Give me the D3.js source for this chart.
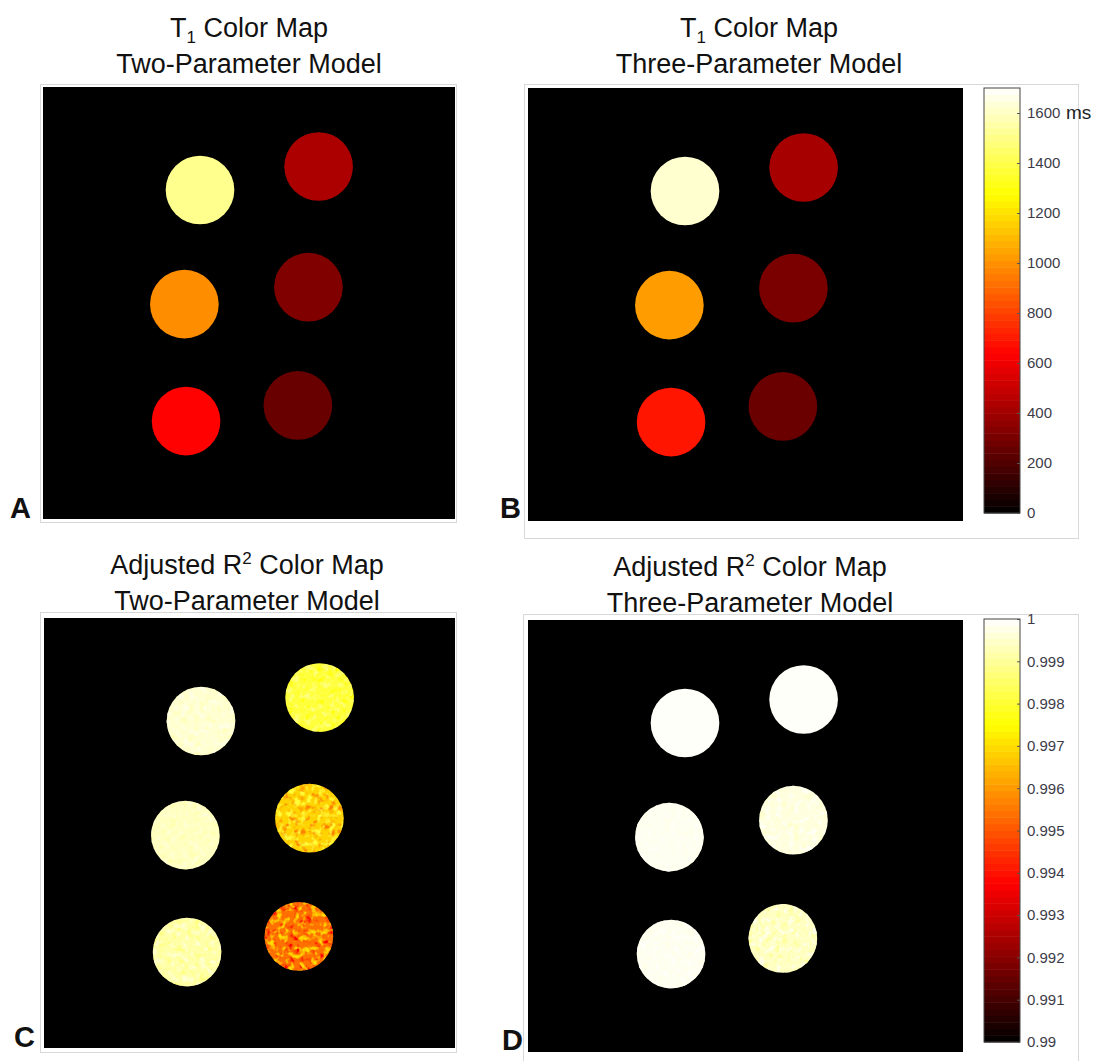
<!DOCTYPE html>
<html>
<head>
  <meta charset="utf-8">
  <script src="https://d3js.org/d3.v7.min.js"></script>
  <style>
    body { margin: 0; background: white; font-family: "Liberation Sans", Arial, sans-serif; }
    .frame { fill: none; stroke: #d8d8d8; stroke-width: 1; }
    .title { font-size: 27px; fill: #111; text-anchor: middle; }
    .plabel { font-size: 29px; font-weight: bold; fill: #111; }
    .cbar text { font-size: 15px; fill: #3c3c48; font-family: "Liberation Sans", Arial, sans-serif; }
    .cbar text.unit { font-size: 19px; fill: #222; }
    .cbar line { stroke: #555; }
  </style>
</head>
<body>
<svg id="chart" width="1099" height="1061"></svg>
<script>
  // tube centres in image matrix units (128 x 128 matrix)
  const tubeX = [46.2, 81.1, 41.6, 78.1, 42.1, 75.0];
  const tubeY = [30.3, 23.4, 63.9, 58.9, 98.3, 93.7];
  const tubeRadius = 10.1;

  // T1 values in ms
  const t1TwoParam = [1510, 430, 990, 320, 640, 262];
  const t1ThreeParam = [1620, 415, 1030, 305, 690, 268];

  // adjusted R^2 values (mean and rough spread inside each tube)
  const r2TwoParam = [0.99955, 0.9981, 0.9994, 0.99685, 0.99915, 0.9954];
  const r2TwoParamSpread = [0.0001, 0.0003, 0.0001, 0.0006, 0.0002, 0.0008];
  const r2ThreeParam = [0.99995, 0.99994, 0.99986, 0.9997, 0.99986, 0.9994];
  const r2ThreeParamSpread = [0, 0, 0.00003, 0.0001, 0.00005, 0.0002];

  const t1Ticks = [0, 200, 400, 600, 800, 1000, 1200, 1400, 1600];
  const t1Max = 1700;
  const r2Ticks = [0.99, 0.991, 0.992, 0.993, 0.994, 0.995, 0.996, 0.997, 0.998, 0.999, 1];
  const r2TickLabels = ["0.99", "0.991", "0.992", "0.993", "0.994", "0.995", "0.996", "0.997", "0.998", "0.999", "1"];

  // matlab style "hot" colormap
  function hot(t) {
    t = Math.max(0, Math.min(1, t));
    const r = Math.min(1, t / 0.375);
    const g = Math.max(0, Math.min(1, (t - 0.375) / 0.375));
    const b = Math.max(0, Math.min(1, (t - 0.75) / 0.25));
    return d3.rgb(r * 255, g * 255, b * 255).toString();
  }

  const svg = d3.select("#chart");
  svg.append("rect").attr("width", 1099).attr("height", 1061).attr("fill", "white");

  const panels = [
    { id: "A", values: t1TwoParam, domain: [0, t1Max],
      img: {x: 43, y: 87, w: 412, h: 432}, frame: {x: 40.5, y: 84.5, w: 416, h: 438},
      title: [["T", "1", " Color Map", "sub"], "Two-Parameter Model"], tx: 249, ty: 37,
      label: {x: 10, y: 518} },
    { id: "B", values: t1ThreeParam, domain: [0, t1Max],
      img: {x: 528, y: 88, w: 435, h: 433}, frame: {x: 524.5, y: 84.5, w: 554, h: 454},
      title: [["T", "1", " Color Map", "sub"], "Three-Parameter Model"], tx: 759, ty: 37,
      label: {x: 500, y: 518},
      cbar: {x: 984, y: 88, w: 36, h: 425, ticks: t1Ticks, labels: t1Ticks.map(String), unit: "ms"} },
    { id: "C", values: r2TwoParam, spread: r2TwoParamSpread, domain: [0.99, 1],
      img: {x: 44, y: 618, w: 411, h: 430}, frame: {x: 40.5, y: 612.5, w: 416, h: 440},
      title: [["Adjusted R", "2", " Color Map", "sup"], "Two-Parameter Model"], tx: 247, ty: 574,
      label: {x: 14, y: 1047} },
    { id: "D", values: r2ThreeParam, spread: r2ThreeParamSpread, domain: [0.99, 1],
      img: {x: 528, y: 620, w: 435, h: 432}, frame: {x: 523.5, y: 614.5, w: 555, h: 460},
      title: [["Adjusted R", "2", " Color Map", "sup"], "Three-Parameter Model"], tx: 750, ty: 576,
      label: {x: 502, y: 1050},
      cbar: {x: 984, y: 619, w: 36, h: 423, ticks: r2Ticks, labels: r2TickLabels} }
  ];

  const defs = svg.append("defs");

  // speckle texture: darker and lighter blotches of the neighbouring colormap values
  function speckleFilter(id, dark, light, seed) {
    const f = defs.append("filter").attr("id", id)
      .attr("x", "-5%").attr("y", "-5%").attr("width", "110%").attr("height", "110%");
    f.append("feTurbulence").attr("type", "fractalNoise").attr("baseFrequency", 0.17)
      .attr("numOctaves", 2).attr("seed", seed).attr("result", "noise");
    f.append("feColorMatrix").attr("in", "noise").attr("type", "matrix")
      .attr("values", "0 0 0 0 0  0 0 0 0 0  0 0 0 0 0  4 0 0 0 -2.0").attr("result", "mDark");
    f.append("feColorMatrix").attr("in", "noise").attr("type", "matrix")
      .attr("values", "0 0 0 0 0  0 0 0 0 0  0 0 0 0 0  0 4 0 0 -2.0").attr("result", "mLight");
    f.append("feFlood").attr("flood-color", dark).attr("result", "cDark");
    f.append("feComposite").attr("in", "cDark").attr("in2", "mDark").attr("operator", "in").attr("result", "sDark");
    f.append("feComposite").attr("in", "sDark").attr("in2", "SourceAlpha").attr("operator", "in").attr("result", "dark");
    f.append("feFlood").attr("flood-color", light).attr("result", "cLight");
    f.append("feComposite").attr("in", "cLight").attr("in2", "mLight").attr("operator", "in").attr("result", "sLight");
    f.append("feComposite").attr("in", "sLight").attr("in2", "SourceAlpha").attr("operator", "in").attr("result", "light");
    const m = f.append("feMerge");
    m.append("feMergeNode").attr("in", "SourceGraphic");
    m.append("feMergeNode").attr("in", "dark");
    m.append("feMergeNode").attr("in", "light");
  }

  panels.forEach(p => {
    const g = svg.append("g").attr("class", "panel-" + p.id);
    const color = d3.scaleLinear().domain(p.domain).range([0, 1]).clamp(true);

    g.append("rect").attr("class", "frame")
      .attr("x", p.frame.x).attr("y", p.frame.y)
      .attr("width", p.frame.w).attr("height", p.frame.h);

    defs.append("clipPath").attr("id", "clip-" + p.id)
      .append("rect").attr("x", p.img.x).attr("y", p.img.y)
      .attr("width", p.img.w).attr("height", p.img.h);

    g.append("rect").attr("x", p.img.x).attr("y", p.img.y)
      .attr("width", p.img.w).attr("height", p.img.h).attr("fill", "black");

    const sx = d3.scaleLinear().domain([0, 128]).range([p.img.x, p.img.x + 435]);
    const sy = d3.scaleLinear().domain([0, 128]).range([p.img.y, p.img.y + 435]);

    if (p.spread) {
      p.values.forEach((v, i) => {
        const s = p.spread[i];
        if (s > 0) speckleFilter(`speck-${p.id}-${i}`, hot(color(v - 2 * s)), hot(color(v + 2 * s)), 3 + i * 7);
      });
    }

    g.append("g").attr("clip-path", "url(#clip-" + p.id + ")")
      .selectAll("circle").data(p.values).join("circle")
      .attr("cx", (d, i) => sx(tubeX[i]))
      .attr("cy", (d, i) => sy(tubeY[i]))
      .attr("r", sx(tubeRadius) - sx(0))
      .attr("fill", d => hot(color(d)))
      .attr("filter", (d, i) => p.spread && p.spread[i] > 0 ? `url(#speck-${p.id}-${i})` : null);

    // title, two lines
    const t = g.append("text").attr("class", "title").attr("x", p.tx).attr("y", p.ty);
    const [pre, script, post, kind] = p.title[0];
    t.append("tspan").text(pre);
    t.append("tspan").text(script)
      .attr("font-size", "17px")
      .attr("dy", kind === "sub" ? 6 : -10);
    t.append("tspan").text(post).attr("dy", kind === "sub" ? -6 : 10);
    g.append("text").attr("class", "title").attr("x", p.tx).attr("y", p.ty + 36).text(p.title[1]);

    g.append("text").attr("class", "plabel").attr("x", p.label.x).attr("y", p.label.y).text(p.id);

    if (p.cbar) {
      const c = p.cbar;
      const cy = d3.scaleLinear().domain(p.domain).range([c.y + c.h, c.y]);
      const n = 64;
      const band = d3.scaleBand().domain(d3.range(n)).range([c.y + c.h, c.y]);
      const cg = g.append("g").attr("class", "cbar");
      cg.selectAll("rect.band").data(d3.range(n)).join("rect")
        .attr("class", "band")
        .attr("x", c.x).attr("y", i => band(i))
        .attr("width", c.w).attr("height", band.bandwidth() + 0.5)
        .attr("fill", i => hot((i + 0.5) / n));
      cg.append("rect").attr("x", c.x).attr("y", c.y).attr("width", c.w).attr("height", c.h)
        .attr("fill", "none").attr("stroke", "#444").attr("stroke-width", 1);
      const axis = d3.axisRight(cy).tickValues(c.ticks)
        .tickFormat((d, i) => c.labels[i])
        .tickSizeInner(-3).tickSizeOuter(0).tickPadding(7);
      const ag = cg.append("g").attr("transform", `translate(${c.x + c.w},0)`).call(axis);
      ag.select(".domain").remove();
      ag.selectAll("text").attr("fill", "#3c3c48");
      if (c.unit) {
        cg.append("text").attr("class", "unit")
          .attr("x", c.x + c.w + 46).attr("y", cy(c.ticks[c.ticks.length - 1]) + 6)
          .text(c.unit);
      }
    }
  });
</script>
</body>
</html>
